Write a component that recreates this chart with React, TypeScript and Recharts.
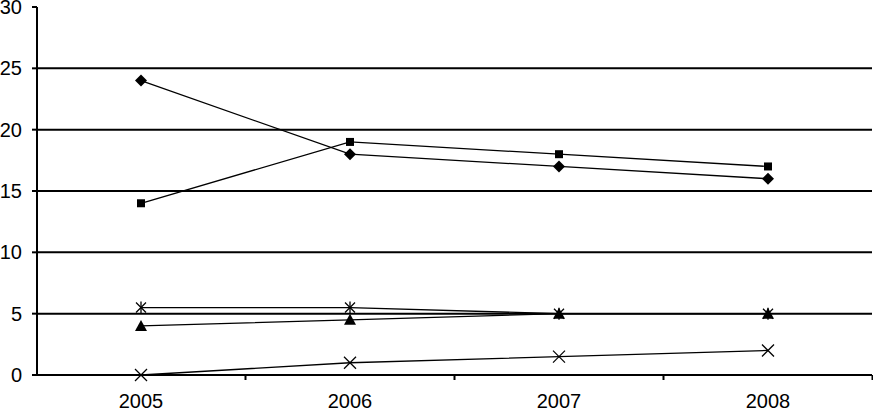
import { LineChart, Line, XAxis, YAxis, ReferenceLine } from "recharts";

const years = ["2005", "2006", "2007", "2008"];
const diamondSeries = [24, 18, 17, 16];
const squareSeries = [14, 19, 18, 17];
const triangleSeries = [4, 4.5, 5, 5];
const starSeries = [5.5, 5.5, 5, 5];
const crossSeries = [0, 1, 1.5, 2];
const yTicks = [0, 5, 10, 15, 20, 25, 30];
const gridValues = [5, 10, 15, 20, 25];

const data = years.map((year, i) => ({
  year,
  diamond: diamondSeries[i],
  square: squareSeries[i],
  triangle: triangleSeries[i],
  star: starSeries[i],
  cross: crossSeries[i],
}));

const FONT = "'Liberation Sans', Arial, sans-serif";
const HALF_BAND = 104.5;

const YearTick = (props: any) => {
  const { x, y, payload } = props;
  return (
    <g>
      <text x={x} y={y + 33} textAnchor="middle" fontSize={20} fill="#000" fontFamily={FONT}>
        {payload.value}
      </text>
      <line x1={x + HALF_BAND} x2={x + HALF_BAND} y1={y} y2={y + 5} stroke="#000" strokeWidth={2} />
    </g>
  );
};

const Diamond = (props: any) => {
  const { cx, cy, index } = props;
  if (cx == null || cy == null) return <g key={index} />;
  return (
    <polygon
      key={index}
      points={`${cx},${cy - 6} ${cx + 6},${cy} ${cx},${cy + 6} ${cx - 6},${cy}`}
      fill="#000"
    />
  );
};

const Square = (props: any) => {
  const { cx, cy, index } = props;
  if (cx == null || cy == null) return <g key={index} />;
  return <rect key={index} x={cx - 4} y={cy - 4} width={8} height={8} fill="#000" />;
};

const Triangle = (props: any) => {
  const { cx, cy, index } = props;
  if (cx == null || cy == null) return <g key={index} />;
  return (
    <polygon
      key={index}
      points={`${cx},${cy - 6} ${cx + 6},${cy + 5} ${cx - 6},${cy + 5}`}
      fill="#000"
    />
  );
};

const Star = (props: any) => {
  const { cx, cy, index } = props;
  if (cx == null || cy == null) return <g key={index} />;
  return (
    <g key={index} stroke="#000" strokeWidth={1.3}>
      <line x1={cx - 5} y1={cy - 5} x2={cx + 5} y2={cy + 5} />
      <line x1={cx - 5} y1={cy + 5} x2={cx + 5} y2={cy - 5} />
      <line x1={cx} y1={cy - 6} x2={cx} y2={cy + 6} />
    </g>
  );
};

const Cross = (props: any) => {
  const { cx, cy, index } = props;
  if (cx == null || cy == null) return <g key={index} />;
  return (
    <g key={index} stroke="#000" strokeWidth={1.3}>
      <line x1={cx - 6} y1={cy - 6} x2={cx + 6} y2={cy + 6} />
      <line x1={cx - 6} y1={cy + 6} x2={cx + 6} y2={cy - 6} />
    </g>
  );
};

export default function App() {
  return (
    <div style={{ position: "absolute", left: 0, top: 0, background: "#fff", fontFamily: FONT }}>
      <LineChart width={873} height={411} data={data} margin={{ top: 7, right: 1, bottom: 0, left: 0 }}>
        {gridValues.map((v) => (
          <ReferenceLine key={v} y={v} stroke="#000" strokeWidth={2} />
        ))}
        <XAxis
          dataKey="year"
          padding={{ left: 104, right: 104 }}
          axisLine={{ stroke: "#000", strokeWidth: 2 }}
          tickLine={false}
          tickSize={0}
          tickMargin={0}
          height={36}
          tick={<YearTick />}
          interval={0}
        />
        <YAxis
          domain={[0, 30]}
          ticks={yTicks}
          width={37}
          axisLine={{ stroke: "#000", strokeWidth: 2 }}
          tickLine={{ stroke: "#000", strokeWidth: 2 }}
          tickSize={5}
          tickMargin={10}
          tick={{ fontSize: 20, fill: "#000", fontFamily: FONT }}
          interval={0}
        />
        <Line dataKey="diamond" stroke="#000" strokeWidth={1.3} dot={<Diamond />} isAnimationActive={false} />
        <Line dataKey="square" stroke="#000" strokeWidth={1.3} dot={<Square />} isAnimationActive={false} />
        <Line dataKey="triangle" stroke="#000" strokeWidth={1.3} dot={<Triangle />} isAnimationActive={false} />
        <Line dataKey="star" stroke="#000" strokeWidth={1.3} dot={<Star />} isAnimationActive={false} />
        <Line dataKey="cross" stroke="#000" strokeWidth={1.3} dot={<Cross />} isAnimationActive={false} />
      </LineChart>
    </div>
  );
}
